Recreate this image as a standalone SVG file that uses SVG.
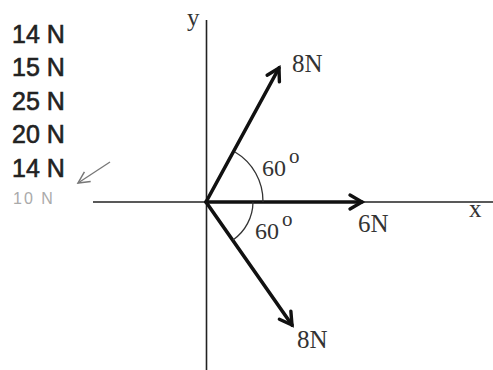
<svg xmlns="http://www.w3.org/2000/svg" width="493" height="370" viewBox="0 0 493 370">
<style>
.list{font-family:"Liberation Sans",Arial,sans-serif;font-size:25px;fill:#222;stroke:#222;stroke-width:0.6;}
.lab{font-family:"Liberation Serif","Times New Roman",serif;fill:#333;}
.big{font-size:25px;}
.ang{font-size:24px;}
.deg{font-size:21px;}
.axis{stroke:#222;stroke-width:1.6;fill:none;}
.vec{stroke:#111;stroke-width:3.6;fill:none;stroke-linecap:round;}
.arc{stroke:#333;stroke-width:1.3;fill:none;}
</style>
<defs>
<marker id="ah" markerUnits="userSpaceOnUse" markerWidth="20" markerHeight="20" refX="15" refY="8" orient="auto" viewBox="0 0 20 16">
<path d="M3,1 L15,8 L3,15" fill="none" stroke="#111" stroke-width="3.4" stroke-linejoin="miter" stroke-linecap="round"/>
</marker>
<marker id="ah2" markerUnits="userSpaceOnUse" markerWidth="16" markerHeight="16" refX="12" refY="6" orient="auto" viewBox="0 0 14 12">
<path d="M2,1 L12,6 L2,11" fill="none" stroke="#777" stroke-width="1.3"/>
</marker>
</defs>
<g id="list">
<text class="list" x="12" y="43">14 N</text>
<text class="list" x="12" y="76">15 N</text>
<text class="list" x="12" y="110">25 N</text>
<text class="list" x="12" y="143">20 N</text>
<text class="list" x="12" y="177">14 N</text>
<text x="13" y="204" style="font-family:'Liberation Sans',Arial,sans-serif;font-size:16px;letter-spacing:2px;fill:#aaa;">10 N</text>
</g>
<g id="connectors">
<line class="axis" x1="93" y1="202" x2="493" y2="202"/>
<line class="axis" x1="206.5" y1="20" x2="206.5" y2="370"/>
<line class="vec" x1="206" y1="202" x2="279" y2="68" marker-end="url(#ah)"/>
<line class="vec" x1="206" y1="202" x2="362" y2="202" marker-end="url(#ah)"/>
<line class="vec" x1="206" y1="202" x2="292" y2="325" marker-end="url(#ah)"/>
<line x1="110" y1="162" x2="78" y2="183" stroke="#777" stroke-width="1.3" marker-end="url(#ah2)"/>
<path class="arc" d="M263,202 A57,57 0 0 0 235,152"/>
<path class="arc" d="M253,202 A47,47 0 0 1 233,240"/>
</g>
<g id="labels">
<text class="lab big" x="187" y="26">y</text>
<text class="lab big" x="469" y="217">x</text>
<text class="lab big" x="292" y="72">8N</text>
<text class="lab big" x="358" y="232">6N</text>
<text class="lab big" x="297" y="348">8N</text>
<text class="lab ang" x="262" y="176">60</text><text class="lab deg" x="289" y="163">o</text>
<text class="lab ang" x="255" y="239">60</text><text class="lab deg" x="282" y="226">o</text>
</g>
</svg>
